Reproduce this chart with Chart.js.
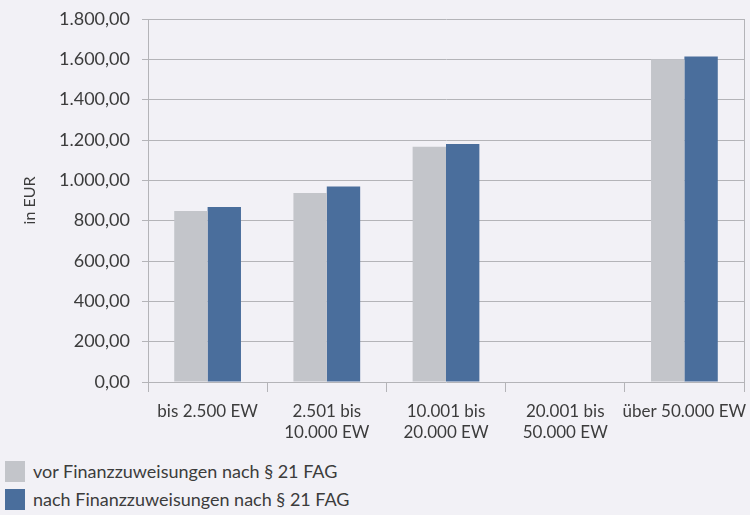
<!DOCTYPE html>
<html>
<head>
<meta charset="utf-8">
<script src="https://cdn.jsdelivr.net/npm/chart.js@4/dist/chart.umd.min.js"></script>
<style>
  html, body { margin: 0; padding: 0; background: #f2f1f6; }
  #wrap { position: relative; width: 750px; height: 515px; }
  #chart { position: absolute; left: 0; top: 0; }
  #legend { position: absolute; left: 5px; top: 457px; font-family: Lato, sans-serif; font-size: 18px; color: #3c3c3c; }
  .item { display: flex; align-items: center; height: 28px; }
  .box { width: 20px; height: 21px; margin-right: 8px; }
</style>
</head>
<body>
<div id="wrap">
  <canvas id="chart" width="750" height="450"></canvas>
  <div id="legend"></div>
</div>
<script>
const categories = [
  "bis 2.500 EW",
  ["2.501 bis", "10.000 EW"],
  ["10.001 bis", "20.000 EW"],
  ["20.001 bis", "50.000 EW"],
  "über 50.000 EW",
];
const seriesNames = ["vor Finanzzuweisungen nach § 21 FAG", "nach Finanzzuweisungen nach § 21 FAG"];
const vorValues = [848, 937, 1167, null, 1601];
const nachValues = [868, 970, 1180, null, 1614];
const barColors = ["#c3c5ca", "#4a6e9c"];

const fmt = new Intl.NumberFormat("de-DE", { minimumFractionDigits: 2, maximumFractionDigits: 2 });

// right edge line of the plot area
const rightBorder = {
  id: "rightBorder",
  afterDraw: (chart) => {
    const { ctx, chartArea } = chart;
    ctx.save();
    ctx.strokeStyle = "#b4b4b8";
    ctx.lineWidth = 1;
    ctx.beginPath();
    ctx.moveTo(chartArea.right + 0.5, chartArea.top);
    ctx.lineTo(chartArea.right + 0.5, chartArea.bottom);
    ctx.stroke();
    ctx.restore();
  },
};

const ctx = document.getElementById("chart").getContext("2d");
new Chart(ctx, {
  type: "bar",
  data: {
    labels: categories,
    datasets: [
      { label: seriesNames[0], data: vorValues, backgroundColor: barColors[0] },
      { label: seriesNames[1], data: nachValues, backgroundColor: barColors[1] },
    ],
  },
  options: {
    responsive: false,
    animation: false,
    categoryPercentage: 0.56,
    barPercentage: 1,
    layout: { padding: { top: 19, right: 6, left: 0, bottom: 0 } },
    plugins: {
      legend: { display: false },
      tooltip: { enabled: false },
    },
    scales: {
      x: {
        grid: {
          display: true,
          drawOnChartArea: false,
          drawTicks: true,
          tickLength: 10,
          color: "#b4b4b8",
          offset: true,
        },
        border: { display: false },
        ticks: {
          color: "#3c3c3c",
          font: { family: "Lato", size: 17, lineHeight: 1.25 },
          padding: 9,
          maxRotation: 0,
          autoSkip: false,
        },
        afterFit: (scale) => {
          scale.height = 68;
          scale.paddingLeft = 0;
          scale.paddingRight = 0;
        },
      },
      y: {
        min: 0,
        max: 1800,
        ticks: {
          stepSize: 200,
          color: "#3c3c3c",
          font: { family: "Lato", size: 18 },
          padding: 12,
          callback: (v) => fmt.format(v),
        },
        grid: { color: "#b4b4b8", tickLength: 6 },
        border: { color: "#b4b4b8" },
        title: {
          display: true,
          text: "in EUR",
          color: "#3c3c3c",
          font: { family: "Lato", size: 16 },
          padding: { top: 20, bottom: 0 },
        },
        afterFit: (scale) => {
          scale.width = 148;
          scale.paddingTop = 0;
          scale.paddingBottom = 0;
        },
      },
    },
  },
  plugins: [rightBorder],
});

// legend as a vertical list below the chart
const legend = document.getElementById("legend");
seriesNames.forEach((name, i) => {
  const row = document.createElement("div");
  row.className = "item";
  const box = document.createElement("span");
  box.className = "box";
  box.style.background = barColors[i];
  row.appendChild(box);
  row.appendChild(document.createTextNode(name));
  legend.appendChild(row);
});
</script>
</body>
</html>
